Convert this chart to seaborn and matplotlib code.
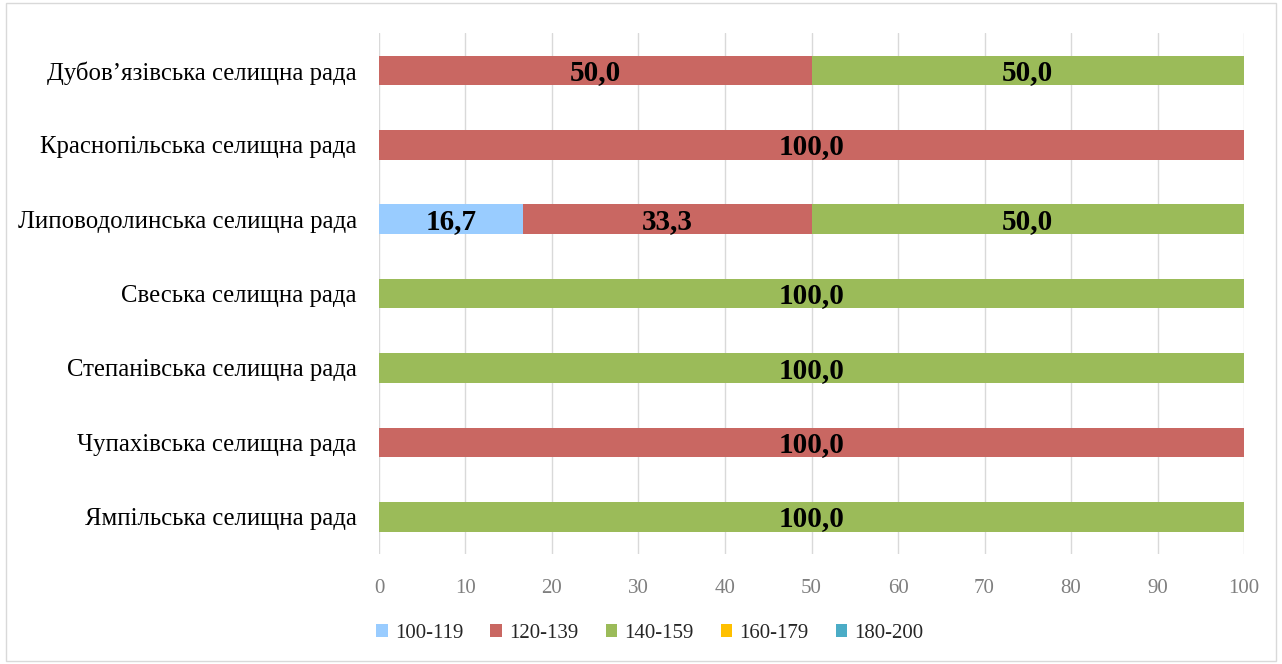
import numpy as np
import pandas as pd
import matplotlib
matplotlib.use("Agg")
import matplotlib.pyplot as plt
import seaborn as sns
from matplotlib.patches import Patch, Rectangle

# дані
councils = ["Дубов’язівська селищна рада", "Краснопільська селищна рада",
            "Липоводолинська селищна рада", "Свеська селищна рада",
            "Степанівська селищна рада", "Чупахівська селищна рада",
            "Ямпільська селищна рада"]
groups = ["100-119", "120-139", "140-159", "160-179", "180-200"]
v_100_119 = [0, 0, 16.7, 0, 0, 0, 0]
v_120_139 = [50.0, 100.0, 33.3, 0, 0, 100.0, 0]
v_140_159 = [50.0, 0, 50.0, 100.0, 100.0, 0, 100.0]
v_160_179 = [0, 0, 0, 0, 0, 0, 0]
v_180_200 = [0, 0, 0, 0, 0, 0, 0]
colors = ["#99CCFF", "#C96762", "#9BBB59", "#FFC000", "#4BACC6"]
x_ticks = list(range(0, 101, 10))

df = pd.DataFrame({"council": councils, "100-119": v_100_119, "120-139": v_120_139,
                   "140-159": v_140_159, "160-179": v_160_179, "180-200": v_180_200})
cum = df[groups].cumsum(axis=1)

sns.set_theme(style="white")
plt.rcParams["font.family"] = ["Liberation Serif", "DejaVu Serif"]

fig = plt.figure(figsize=(12.82, 6.64), dpi=100)
ax = fig.add_axes([0.2956, 0.1657, 0.6748, 0.7843])

# накладання сумарних смуг (від найбільшої до найменшої)
for g, c in reversed(list(zip(groups, colors))):
    sns.barplot(x=cum[g], y=df["council"], color=c, orient="h", width=0.4,
                saturation=1, linewidth=0, ax=ax, zorder=3)

# підписи значень
for i, g in enumerate(groups):
    for j, v in enumerate(df[g]):
        if v > 0:
            ax.text(cum[g][j] - v / 2, j + 0.03, f"{v:.1f}".replace(".", ","),
                    ha="center", va="center", fontsize=21, fontweight="bold",
                    color="black", zorder=4)

ax.set_xlim(0, 100)
ax.set_xticks(x_ticks)
ax.set_xticklabels([str(t) for t in x_ticks], fontsize=15, color="#7F7F7F")
ax.tick_params(axis="y", labelsize=17.8, labelcolor="black", length=0, pad=16)
ax.tick_params(axis="x", length=0, pad=18)
ax.set_xlabel("")
ax.set_ylabel("")
ax.xaxis.grid(True, color="#D9D9D9", linewidth=1, zorder=0)
ax.set_axisbelow(True)
for s in ax.spines.values():
    s.set_visible(False)

handles = [Patch(facecolor=c, edgecolor="none", label=g) for g, c in zip(groups, colors)]
fig.legend(handles=handles, loc="center", bbox_to_anchor=(0.507, 0.046), ncol=5,
           frameon=False, fontsize=15, handlelength=0.55, handleheight=0.55,
           handletextpad=0.35, columnspacing=1.3)

fig.patches.append(Rectangle((0.005, 0.005), 0.99, 0.99, transform=fig.transFigure,
                             fill=False, edgecolor="#D9D9D9", linewidth=1))

fig.savefig("out.png", dpi=100)
